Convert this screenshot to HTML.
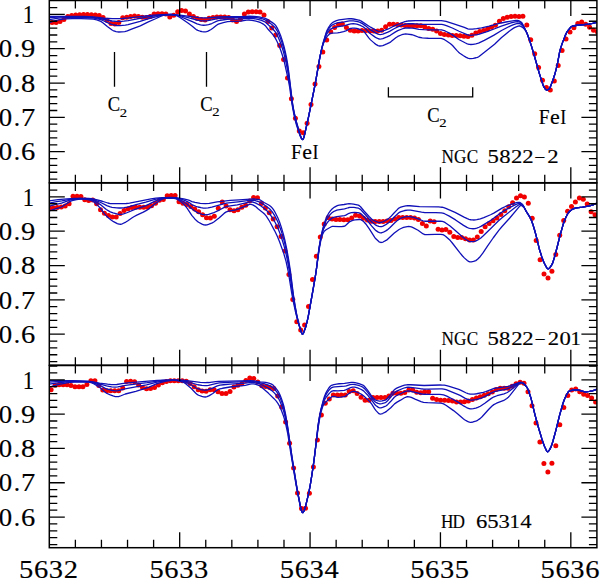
<!DOCTYPE html>
<html><head><meta charset="utf-8"><title>Spectra</title>
<style>html,body{margin:0;padding:0;background:#fff;}body{width:600px;height:578px;overflow:hidden;font-family:"Liberation Serif",serif;}svg{display:block;}</style>
</head><body>
<svg width="600" height="578" viewBox="0 0 600 578"><defs><clipPath id="c0"><rect x="49.3" y="0.5" width="547.6" height="182.2"/></clipPath><clipPath id="c1"><rect x="49.3" y="183.0" width="547.6" height="182.2"/></clipPath><clipPath id="c2"><rect x="49.3" y="365.5" width="547.6" height="182.2"/></clipPath></defs><g clip-path="url(#c0)"><g fill="#f00000"><circle cx="48.2" cy="21.8" r="2.5"/><circle cx="52.1" cy="22.4" r="2.5"/><circle cx="56.1" cy="22.4" r="2.5"/><circle cx="60.0" cy="21.5" r="2.5"/><circle cx="63.9" cy="19.6" r="2.5"/><circle cx="67.8" cy="16.6" r="2.5"/><circle cx="71.7" cy="15.5" r="2.5"/><circle cx="75.7" cy="14.9" r="2.5"/><circle cx="79.6" cy="14.7" r="2.5"/><circle cx="83.5" cy="14.5" r="2.5"/><circle cx="87.4" cy="14.5" r="2.5"/><circle cx="91.4" cy="14.7" r="2.5"/><circle cx="95.3" cy="15.0" r="2.5"/><circle cx="99.2" cy="15.4" r="2.5"/><circle cx="103.1" cy="17.4" r="2.5"/><circle cx="107.0" cy="20.3" r="2.5"/><circle cx="111.0" cy="23.5" r="2.5"/><circle cx="114.9" cy="24.1" r="2.5"/><circle cx="118.8" cy="22.4" r="2.5"/><circle cx="122.7" cy="17.7" r="2.5"/><circle cx="126.7" cy="17.2" r="2.5"/><circle cx="130.6" cy="16.6" r="2.5"/><circle cx="134.5" cy="16.0" r="2.5"/><circle cx="138.4" cy="16.4" r="2.5"/><circle cx="142.4" cy="17.2" r="2.5"/><circle cx="146.3" cy="17.4" r="2.5"/><circle cx="150.2" cy="16.4" r="2.5"/><circle cx="154.1" cy="13.9" r="2.5"/><circle cx="158.0" cy="13.7" r="2.5"/><circle cx="162.0" cy="13.7" r="2.5"/><circle cx="165.9" cy="14.0" r="2.5"/><circle cx="169.8" cy="17.0" r="2.5"/><circle cx="173.7" cy="15.2" r="2.5"/><circle cx="177.7" cy="11.8" r="2.5"/><circle cx="181.6" cy="10.5" r="2.5"/><circle cx="185.5" cy="10.9" r="2.5"/><circle cx="189.4" cy="14.0" r="2.5"/><circle cx="193.4" cy="16.6" r="2.5"/><circle cx="197.3" cy="18.4" r="2.5"/><circle cx="201.2" cy="19.5" r="2.5"/><circle cx="205.1" cy="20.0" r="2.5"/><circle cx="209.0" cy="18.3" r="2.5"/><circle cx="213.0" cy="17.5" r="2.5"/><circle cx="216.9" cy="17.1" r="2.5"/><circle cx="220.8" cy="17.0" r="2.5"/><circle cx="224.7" cy="17.1" r="2.5"/><circle cx="228.7" cy="17.4" r="2.5"/><circle cx="232.6" cy="19.9" r="2.5"/><circle cx="236.5" cy="21.4" r="2.5"/><circle cx="240.4" cy="19.2" r="2.5"/><circle cx="244.4" cy="14.0" r="2.5"/><circle cx="248.3" cy="12.0" r="2.5"/><circle cx="252.2" cy="11.7" r="2.5"/><circle cx="256.1" cy="11.7" r="2.5"/><circle cx="260.0" cy="12.0" r="2.5"/><circle cx="264.0" cy="15.1" r="2.5"/><circle cx="267.9" cy="21.4" r="2.5"/><circle cx="271.8" cy="28.1" r="2.5"/><circle cx="275.7" cy="34.9" r="2.5"/><circle cx="279.7" cy="45.5" r="2.5"/><circle cx="283.6" cy="59.4" r="2.5"/><circle cx="287.5" cy="78.0" r="2.5"/><circle cx="291.4" cy="98.7" r="2.5"/><circle cx="295.4" cy="118.2" r="2.5"/><circle cx="299.3" cy="131.1" r="2.5"/><circle cx="303.2" cy="132.7" r="2.5"/><circle cx="307.1" cy="123.3" r="2.5"/><circle cx="311.0" cy="104.5" r="2.5"/><circle cx="315.0" cy="83.9" r="2.5"/><circle cx="318.9" cy="66.5" r="2.5"/><circle cx="322.8" cy="52.0" r="2.5"/><circle cx="326.7" cy="40.0" r="2.5"/><circle cx="330.7" cy="31.7" r="2.5"/><circle cx="334.6" cy="27.6" r="2.5"/><circle cx="338.5" cy="24.5" r="2.5"/><circle cx="342.4" cy="23.9" r="2.5"/><circle cx="346.4" cy="27.6" r="2.5"/><circle cx="350.3" cy="30.2" r="2.5"/><circle cx="354.2" cy="31.0" r="2.5"/><circle cx="358.1" cy="31.0" r="2.5"/><circle cx="362.0" cy="30.5" r="2.5"/><circle cx="366.0" cy="30.5" r="2.5"/><circle cx="369.9" cy="30.9" r="2.5"/><circle cx="373.8" cy="31.0" r="2.5"/><circle cx="377.7" cy="31.0" r="2.5"/><circle cx="381.7" cy="30.3" r="2.5"/><circle cx="385.6" cy="26.8" r="2.5"/><circle cx="389.5" cy="24.3" r="2.5"/><circle cx="393.4" cy="24.3" r="2.5"/><circle cx="397.4" cy="24.6" r="2.5"/><circle cx="401.3" cy="25.1" r="2.5"/><circle cx="405.2" cy="25.6" r="2.5"/><circle cx="409.1" cy="25.7" r="2.5"/><circle cx="413.0" cy="25.7" r="2.5"/><circle cx="417.0" cy="25.7" r="2.5"/><circle cx="420.9" cy="25.7" r="2.5"/><circle cx="424.8" cy="26.9" r="2.5"/><circle cx="428.7" cy="28.5" r="2.5"/><circle cx="432.7" cy="29.3" r="2.5"/><circle cx="436.6" cy="30.9" r="2.5"/><circle cx="440.5" cy="33.6" r="2.5"/><circle cx="444.4" cy="34.6" r="2.5"/><circle cx="448.4" cy="35.1" r="2.5"/><circle cx="452.3" cy="35.4" r="2.5"/><circle cx="456.2" cy="35.5" r="2.5"/><circle cx="460.1" cy="35.7" r="2.5"/><circle cx="464.0" cy="36.2" r="2.5"/><circle cx="468.0" cy="36.5" r="2.5"/><circle cx="471.9" cy="35.3" r="2.5"/><circle cx="475.8" cy="33.0" r="2.5"/><circle cx="479.7" cy="31.6" r="2.5"/><circle cx="483.7" cy="30.4" r="2.5"/><circle cx="487.6" cy="28.9" r="2.5"/><circle cx="491.5" cy="27.3" r="2.5"/><circle cx="495.4" cy="25.2" r="2.5"/><circle cx="499.4" cy="21.3" r="2.5"/><circle cx="503.3" cy="18.4" r="2.5"/><circle cx="507.2" cy="17.3" r="2.5"/><circle cx="511.1" cy="16.6" r="2.5"/><circle cx="515.0" cy="16.2" r="2.5"/><circle cx="519.0" cy="16.6" r="2.5"/><circle cx="522.9" cy="16.2" r="2.5"/><circle cx="526.8" cy="25.0" r="2.5"/><circle cx="530.7" cy="39.7" r="2.5"/><circle cx="534.7" cy="53.8" r="2.5"/><circle cx="538.6" cy="67.4" r="2.5"/><circle cx="542.5" cy="80.3" r="2.5"/><circle cx="546.4" cy="87.6" r="2.5"/><circle cx="550.3" cy="89.9" r="2.5"/><circle cx="554.3" cy="80.9" r="2.5"/><circle cx="558.2" cy="65.6" r="2.5"/><circle cx="562.1" cy="50.4" r="2.5"/><circle cx="566.0" cy="39.1" r="2.5"/><circle cx="570.0" cy="32.0" r="2.5"/><circle cx="573.9" cy="27.7" r="2.5"/><circle cx="577.8" cy="23.4" r="2.5"/><circle cx="581.7" cy="22.1" r="2.5"/><circle cx="585.7" cy="24.2" r="2.5"/><circle cx="589.6" cy="27.3" r="2.5"/><circle cx="593.5" cy="30.3" r="2.5"/><circle cx="597.4" cy="31.9" r="2.5"/></g><polyline fill="none" stroke="#1010b8" stroke-width="1.3" stroke-linejoin="round" points="49.30,16.30 83.80,16.37 93.30,16.90 104.30,18.26 112.30,18.60 118.55,18.70 122.30,18.52 129.05,17.90 139.55,16.55 150.80,15.39 161.30,14.72 171.30,14.40 180.05,15.22 198.80,17.59 203.05,17.96 207.55,17.91 218.55,17.01 228.80,16.72 240.80,16.69 246.55,16.30 249.05,16.26 254.05,16.49 259.05,16.97 263.30,17.83 265.30,18.40 266.30,18.81 268.30,19.93 272.05,22.37 274.55,24.27 275.80,25.62 277.30,28.10 279.05,31.86 281.05,36.84 282.55,41.38 284.05,46.74 285.30,51.86 286.55,57.92 287.55,63.58 288.55,70.55 292.30,101.64 293.05,106.58 294.05,111.82 296.30,121.39 300.30,135.14 301.55,138.35 302.30,139.35 302.80,139.48 303.05,139.29 303.55,138.33 304.30,135.82 308.30,118.09 315.30,83.47 319.55,58.74 321.55,49.28 323.30,42.22 326.05,32.97 327.05,30.34 328.30,27.95 330.05,25.25 331.80,23.19 333.30,22.04 335.80,20.83 337.30,20.32 339.05,19.94 349.05,18.70 351.30,18.77 353.55,19.01 358.80,20.02 360.05,20.47 361.30,21.13 370.55,27.17 375.80,30.17 378.05,31.17 379.05,31.42 380.05,31.50 382.05,31.24 384.55,30.44 388.30,28.96 393.55,26.21 398.05,24.25 404.80,21.68 406.30,21.26 407.80,21.02 415.55,20.70 441.30,20.70 443.05,20.82 446.05,21.45 453.80,23.83 464.30,27.40 467.80,28.79 469.05,29.11 470.05,29.20 472.55,29.08 476.55,28.64 481.55,27.80 489.30,26.10 501.05,22.99 507.30,21.74 515.80,20.48 517.55,20.41 518.55,20.63 519.55,21.09 521.05,22.03 521.55,22.49 522.30,23.47 523.80,26.25 527.05,33.52 529.30,39.52 531.30,45.59 534.05,54.80 539.30,73.38 542.80,84.19 543.55,86.17 544.30,87.60 545.80,89.54 546.30,89.90 546.80,90.00 547.55,89.83 548.30,89.46 549.05,88.96 549.55,88.38 550.55,86.35 552.80,80.54 554.80,74.30 556.30,68.58 557.80,61.95 559.55,52.49 560.80,47.62 562.30,43.13 565.30,35.37 566.80,32.21 568.05,30.35 570.55,27.35 571.55,26.53 572.55,26.04 575.55,25.51 588.80,24.11 592.55,23.43 596.90,22.40"/><polyline fill="none" stroke="#1010b8" stroke-width="1.3" stroke-linejoin="round" points="49.30,17.62 58.55,17.05 66.30,16.84 81.05,16.79 88.55,17.06 93.05,17.34 96.30,17.78 112.05,21.00 116.30,21.41 119.30,21.48 123.80,21.18 128.05,20.65 148.30,16.93 160.55,15.07 164.05,14.72 171.05,14.44 173.80,14.65 178.55,15.37 187.05,17.39 197.05,20.03 200.30,20.59 203.30,20.90 205.55,20.92 207.80,20.68 211.80,19.96 217.30,18.67 221.80,18.18 229.55,17.71 240.80,17.64 248.05,17.04 252.55,17.23 258.30,17.88 262.05,18.75 265.30,19.93 266.80,20.85 271.80,24.54 274.30,26.68 275.55,28.09 277.05,30.54 278.80,34.24 280.80,39.17 282.30,43.58 283.80,48.78 285.05,53.76 286.30,59.56 287.55,66.28 289.05,76.53 292.30,102.53 293.05,107.30 294.30,113.71 296.30,122.02 300.05,134.64 301.30,137.95 302.05,139.14 302.55,139.48 302.80,139.48 303.30,138.90 304.05,136.77 308.05,119.27 315.05,84.78 319.55,58.84 321.30,50.46 323.05,43.46 325.55,35.42 326.55,32.76 327.55,30.68 329.30,27.99 330.80,26.18 332.55,24.77 334.55,23.84 336.55,23.15 338.30,22.73 344.30,21.89 348.05,21.08 349.55,20.87 351.55,20.78 353.30,20.87 357.80,21.67 360.05,22.37 362.80,23.90 365.55,25.85 370.30,29.66 375.80,33.14 378.05,34.19 379.05,34.46 380.05,34.54 381.30,34.44 382.80,34.09 387.30,32.39 389.55,31.33 394.05,28.76 397.80,26.89 403.55,24.66 406.30,23.94 408.05,23.76 412.30,23.71 421.80,24.28 441.80,24.46 444.05,24.86 447.05,25.85 452.30,27.98 459.05,31.27 467.05,34.66 468.80,35.22 470.30,35.37 474.80,34.97 477.30,34.60 479.30,34.13 487.80,31.29 494.05,28.99 501.30,26.05 508.05,23.83 511.05,22.95 515.30,21.93 517.55,21.65 518.80,21.83 519.80,22.22 521.05,22.97 521.80,23.66 522.55,24.64 524.30,27.68 527.05,33.45 529.55,40.23 531.30,45.59 534.05,54.80 539.30,73.38 542.80,84.19 543.55,86.17 544.30,87.60 545.80,89.54 546.30,89.90 546.80,90.00 547.55,89.83 548.30,89.46 549.05,88.96 549.55,88.38 550.55,86.35 552.80,80.54 554.80,74.30 556.30,68.58 557.80,61.95 559.55,52.49 560.80,47.62 562.30,43.13 565.30,35.37 566.80,32.21 568.05,30.35 570.55,27.35 571.55,26.53 572.55,26.04 575.55,25.51 588.80,24.11 592.55,23.43 596.90,22.40"/><polyline fill="none" stroke="#1010b8" stroke-width="1.3" stroke-linejoin="round" points="49.30,19.57 58.55,18.16 66.05,17.65 81.55,17.51 92.55,17.98 96.30,18.56 100.80,19.70 102.80,20.49 107.55,22.71 111.05,24.18 112.55,24.69 116.80,25.50 120.05,25.58 125.30,25.12 128.05,24.57 140.05,21.43 148.05,18.93 161.55,15.31 163.30,14.99 165.55,14.78 171.05,14.50 174.30,14.85 176.55,15.28 178.30,15.76 188.05,19.79 192.30,21.67 197.05,23.96 200.55,24.82 203.55,25.24 205.80,25.21 208.55,24.58 211.80,23.52 216.30,21.43 218.30,20.73 224.05,19.74 228.80,19.22 231.55,19.10 240.55,19.05 247.05,18.25 250.05,18.25 253.55,18.60 257.80,19.27 260.80,20.10 263.30,21.09 265.05,22.02 266.05,22.79 272.55,28.71 275.05,31.50 276.55,33.90 278.30,37.47 280.30,42.27 281.80,46.47 283.30,51.39 284.80,57.12 286.30,63.89 287.80,71.61 289.80,84.60 292.30,103.85 293.30,109.72 294.55,115.86 296.30,122.94 299.80,134.36 301.30,138.11 302.05,139.18 302.55,139.48 302.80,139.48 303.05,139.29 303.30,138.90 304.05,136.77 308.30,118.09 315.30,83.45 319.55,59.00 321.05,51.69 322.30,46.55 323.30,43.11 324.55,39.41 325.80,36.18 327.05,33.56 328.55,31.36 330.05,29.62 331.05,28.83 332.55,28.07 337.05,26.89 344.55,25.57 348.80,24.26 350.80,23.82 353.30,23.67 356.80,24.20 359.80,25.08 363.05,26.74 365.05,28.34 369.05,32.45 370.80,33.96 374.80,36.85 376.55,37.96 378.30,38.75 379.80,39.04 381.30,38.93 382.80,38.59 387.05,36.93 390.30,35.33 395.55,31.91 397.80,30.64 402.55,28.73 405.30,28.01 407.80,27.83 412.30,28.04 414.05,28.29 419.05,29.34 423.80,29.67 428.55,29.84 440.05,29.85 441.55,29.95 443.30,30.34 445.05,30.97 450.55,33.70 452.80,35.11 458.80,39.48 465.55,43.03 467.30,43.83 468.55,44.25 469.55,44.44 470.80,44.48 473.05,44.30 475.80,43.85 477.55,43.48 479.05,42.95 484.30,40.33 493.55,35.39 501.55,30.52 510.05,26.10 513.55,24.61 515.80,23.86 517.80,23.44 519.55,23.59 520.30,23.90 521.30,24.52 523.05,26.39 525.30,29.86 526.30,31.67 527.05,33.34 529.55,40.23 531.30,45.59 534.05,54.80 539.30,73.38 542.80,84.19 543.55,86.17 544.30,87.60 545.80,89.54 546.30,89.90 546.80,90.00 547.55,89.83 548.30,89.46 549.05,88.96 549.55,88.38 550.55,86.35 552.80,80.54 554.80,74.30 556.30,68.58 557.80,61.95 559.55,52.49 560.80,47.62 562.30,43.13 565.30,35.37 566.80,32.21 568.05,30.35 570.55,27.35 571.55,26.53 572.55,26.04 575.55,25.51 588.80,24.11 592.55,23.43 596.90,22.40"/><polyline fill="none" stroke="#1010b8" stroke-width="1.3" stroke-linejoin="round" points="49.30,22.59 53.55,21.21 58.55,19.87 61.80,19.35 65.55,18.94 72.30,18.69 81.05,18.60 87.80,18.78 93.30,19.13 96.80,19.91 100.80,21.36 102.80,22.67 107.30,26.47 112.05,30.03 113.05,30.52 116.05,31.58 117.55,31.91 118.80,32.00 121.55,31.88 124.80,31.53 127.30,30.92 131.55,29.17 140.30,25.87 147.80,22.09 155.55,18.76 161.55,15.86 163.80,15.23 168.80,14.67 171.30,14.60 172.80,14.76 176.05,15.51 177.80,16.19 180.30,17.67 188.30,23.29 192.30,26.23 195.55,29.00 196.80,29.91 197.80,30.42 200.30,31.25 202.05,31.70 203.80,31.96 205.30,31.96 206.55,31.67 208.05,31.05 211.05,29.47 212.80,28.31 216.55,25.20 218.30,24.15 223.30,22.61 227.55,21.70 231.30,21.32 240.80,21.21 246.55,20.14 248.80,20.01 252.05,20.32 256.80,21.27 258.55,21.79 260.80,22.71 263.30,24.09 265.30,25.69 268.30,29.56 272.05,33.64 273.80,35.82 275.30,38.17 277.05,41.51 279.05,45.96 280.80,50.44 282.55,55.73 284.30,61.92 288.30,79.96 289.80,88.00 291.30,99.57 292.05,104.46 293.80,113.87 295.30,120.62 296.55,125.21 299.80,135.16 300.55,136.96 301.30,138.36 302.05,139.24 302.55,139.49 302.80,139.48 303.05,139.29 303.30,138.90 304.05,136.77 308.30,118.09 314.55,87.33 316.30,78.04 319.30,60.52 320.80,53.00 321.80,48.72 322.80,45.39 323.80,42.61 325.80,38.46 326.80,36.86 328.05,35.41 329.55,33.99 330.55,33.41 331.80,33.22 337.55,32.82 340.30,32.35 343.55,31.61 345.80,30.87 350.30,28.69 352.30,28.09 354.30,28.04 356.80,28.46 360.30,29.64 362.80,30.75 363.55,31.24 365.05,32.78 368.80,37.91 370.55,39.87 374.30,43.13 376.30,44.65 378.05,45.59 379.80,46.00 381.30,45.90 382.80,45.56 384.55,44.94 386.80,43.92 389.55,42.58 390.80,41.82 395.80,37.80 397.80,36.44 401.80,34.73 404.30,34.07 405.55,34.00 407.55,34.10 412.30,34.75 414.05,35.28 418.80,37.24 422.30,37.79 428.30,38.27 441.05,38.39 442.80,38.88 444.55,39.71 446.55,40.94 450.55,43.70 452.55,45.54 456.80,50.35 458.55,52.14 459.80,53.16 463.55,55.75 465.80,57.15 467.80,58.08 469.55,58.53 471.05,58.59 473.30,58.35 476.05,57.75 477.55,57.32 479.05,56.51 494.55,44.18 501.30,37.79 510.55,30.17 513.55,28.16 515.55,27.08 518.30,26.07 519.30,25.91 520.05,25.98 521.55,26.81 523.30,28.10 524.30,29.01 526.05,31.17 527.05,33.18 529.80,40.95 531.30,45.59 534.05,54.80 539.30,73.38 542.80,84.19 543.55,86.17 544.30,87.60 545.80,89.54 546.30,89.90 546.80,90.00 547.55,89.83 548.30,89.46 549.05,88.96 549.55,88.38 550.55,86.35 552.80,80.54 554.80,74.30 556.30,68.58 557.80,61.95 559.55,52.49 560.80,47.62 562.30,43.13 565.30,35.37 566.80,32.21 568.05,30.35 570.55,27.35 571.55,26.53 572.55,26.04 575.55,25.51 588.80,24.11 592.55,23.43 596.90,22.40"/></g><g clip-path="url(#c1)"><g fill="#f00000"><circle cx="49.5" cy="208.0" r="2.5"/><circle cx="53.4" cy="208.0" r="2.5"/><circle cx="57.3" cy="207.4" r="2.5"/><circle cx="61.3" cy="206.9" r="2.5"/><circle cx="65.2" cy="206.0" r="2.5"/><circle cx="69.1" cy="203.7" r="2.5"/><circle cx="73.0" cy="196.3" r="2.5"/><circle cx="77.0" cy="196.3" r="2.5"/><circle cx="80.9" cy="196.6" r="2.5"/><circle cx="84.8" cy="199.8" r="2.5"/><circle cx="88.7" cy="200.5" r="2.5"/><circle cx="92.7" cy="200.0" r="2.5"/><circle cx="96.6" cy="203.7" r="2.5"/><circle cx="100.5" cy="209.7" r="2.5"/><circle cx="104.4" cy="213.3" r="2.5"/><circle cx="108.4" cy="215.6" r="2.5"/><circle cx="112.3" cy="217.1" r="2.5"/><circle cx="116.2" cy="217.1" r="2.5"/><circle cx="120.1" cy="213.5" r="2.5"/><circle cx="124.1" cy="210.5" r="2.5"/><circle cx="128.0" cy="208.8" r="2.5"/><circle cx="131.9" cy="207.4" r="2.5"/><circle cx="135.8" cy="207.3" r="2.5"/><circle cx="139.8" cy="207.3" r="2.5"/><circle cx="143.7" cy="207.3" r="2.5"/><circle cx="147.6" cy="207.3" r="2.5"/><circle cx="151.5" cy="205.7" r="2.5"/><circle cx="155.5" cy="203.2" r="2.5"/><circle cx="159.4" cy="200.2" r="2.5"/><circle cx="163.3" cy="199.5" r="2.5"/><circle cx="167.2" cy="195.8" r="2.5"/><circle cx="171.2" cy="195.5" r="2.5"/><circle cx="175.1" cy="195.5" r="2.5"/><circle cx="179.0" cy="201.7" r="2.5"/><circle cx="182.9" cy="203.3" r="2.5"/><circle cx="186.9" cy="204.6" r="2.5"/><circle cx="190.8" cy="206.6" r="2.5"/><circle cx="194.7" cy="209.1" r="2.5"/><circle cx="198.6" cy="211.7" r="2.5"/><circle cx="202.6" cy="214.7" r="2.5"/><circle cx="206.5" cy="217.8" r="2.5"/><circle cx="210.4" cy="218.1" r="2.5"/><circle cx="214.3" cy="216.2" r="2.5"/><circle cx="218.3" cy="208.2" r="2.5"/><circle cx="222.2" cy="202.1" r="2.5"/><circle cx="226.1" cy="206.0" r="2.5"/><circle cx="230.0" cy="209.7" r="2.5"/><circle cx="234.0" cy="210.7" r="2.5"/><circle cx="237.9" cy="209.7" r="2.5"/><circle cx="241.8" cy="207.3" r="2.5"/><circle cx="245.7" cy="205.3" r="2.5"/><circle cx="249.7" cy="201.1" r="2.5"/><circle cx="253.6" cy="197.6" r="2.5"/><circle cx="257.5" cy="197.7" r="2.5"/><circle cx="261.4" cy="203.6" r="2.5"/><circle cx="265.4" cy="208.0" r="2.5"/><circle cx="269.3" cy="212.8" r="2.5"/><circle cx="273.2" cy="219.1" r="2.5"/><circle cx="277.1" cy="226.7" r="2.5"/><circle cx="281.1" cy="236.4" r="2.5"/><circle cx="285.0" cy="250.9" r="2.5"/><circle cx="288.9" cy="274.5" r="2.5"/><circle cx="292.8" cy="299.4" r="2.5"/><circle cx="296.8" cy="321.7" r="2.5"/><circle cx="300.7" cy="330.0" r="2.5"/><circle cx="304.6" cy="325.1" r="2.5"/><circle cx="308.5" cy="306.5" r="2.5"/><circle cx="312.5" cy="279.4" r="2.5"/><circle cx="316.4" cy="256.2" r="2.5"/><circle cx="320.3" cy="237.1" r="2.5"/><circle cx="324.2" cy="223.9" r="2.5"/><circle cx="328.2" cy="217.7" r="2.5"/><circle cx="332.1" cy="218.9" r="2.5"/><circle cx="336.0" cy="219.4" r="2.5"/><circle cx="339.9" cy="219.6" r="2.5"/><circle cx="343.9" cy="219.8" r="2.5"/><circle cx="347.8" cy="219.8" r="2.5"/><circle cx="351.7" cy="218.0" r="2.5"/><circle cx="355.6" cy="215.3" r="2.5"/><circle cx="359.6" cy="215.9" r="2.5"/><circle cx="363.5" cy="218.3" r="2.5"/><circle cx="367.4" cy="219.9" r="2.5"/><circle cx="371.3" cy="221.2" r="2.5"/><circle cx="375.2" cy="221.4" r="2.5"/><circle cx="379.2" cy="221.4" r="2.5"/><circle cx="383.1" cy="221.4" r="2.5"/><circle cx="387.0" cy="221.0" r="2.5"/><circle cx="391.0" cy="220.4" r="2.5"/><circle cx="394.9" cy="218.9" r="2.5"/><circle cx="398.8" cy="217.6" r="2.5"/><circle cx="402.7" cy="217.5" r="2.5"/><circle cx="406.7" cy="217.5" r="2.5"/><circle cx="410.6" cy="217.5" r="2.5"/><circle cx="414.5" cy="217.9" r="2.5"/><circle cx="418.4" cy="219.5" r="2.5"/><circle cx="422.4" cy="223.4" r="2.5"/><circle cx="426.3" cy="226.1" r="2.5"/><circle cx="430.2" cy="220.9" r="2.5"/><circle cx="434.1" cy="221.7" r="2.5"/><circle cx="438.1" cy="229.2" r="2.5"/><circle cx="442.0" cy="230.1" r="2.5"/><circle cx="445.9" cy="229.4" r="2.5"/><circle cx="449.8" cy="232.3" r="2.5"/><circle cx="453.8" cy="236.5" r="2.5"/><circle cx="457.7" cy="237.5" r="2.5"/><circle cx="461.6" cy="237.5" r="2.5"/><circle cx="465.5" cy="238.7" r="2.5"/><circle cx="469.5" cy="239.9" r="2.5"/><circle cx="473.4" cy="240.0" r="2.5"/><circle cx="477.3" cy="236.9" r="2.5"/><circle cx="481.2" cy="231.5" r="2.5"/><circle cx="485.1" cy="226.7" r="2.5"/><circle cx="489.1" cy="223.6" r="2.5"/><circle cx="493.0" cy="220.8" r="2.5"/><circle cx="496.9" cy="217.9" r="2.5"/><circle cx="500.9" cy="214.4" r="2.5"/><circle cx="504.8" cy="210.7" r="2.5"/><circle cx="508.7" cy="206.8" r="2.5"/><circle cx="512.6" cy="202.8" r="2.5"/><circle cx="516.5" cy="198.0" r="2.5"/><circle cx="520.5" cy="195.7" r="2.5"/><circle cx="524.4" cy="197.1" r="2.5"/><circle cx="528.3" cy="203.2" r="2.5"/><circle cx="532.2" cy="218.2" r="2.5"/><circle cx="536.2" cy="240.4" r="2.5"/><circle cx="540.1" cy="259.7" r="2.5"/><circle cx="544.0" cy="274.1" r="2.5"/><circle cx="548.0" cy="278.1" r="2.5"/><circle cx="551.9" cy="271.2" r="2.5"/><circle cx="555.8" cy="254.6" r="2.5"/><circle cx="559.7" cy="235.2" r="2.5"/><circle cx="563.7" cy="220.5" r="2.5"/><circle cx="567.6" cy="211.3" r="2.5"/><circle cx="571.5" cy="206.6" r="2.5"/><circle cx="575.4" cy="202.0" r="2.5"/><circle cx="579.4" cy="198.0" r="2.5"/><circle cx="583.3" cy="199.2" r="2.5"/><circle cx="587.2" cy="204.0" r="2.5"/><circle cx="591.1" cy="211.8" r="2.5"/><circle cx="595.0" cy="214.8" r="2.5"/><circle cx="599.0" cy="215.6" r="2.5"/></g><polyline fill="none" stroke="#1010b8" stroke-width="1.3" stroke-linejoin="round" points="49.30,200.95 58.05,199.63 66.80,198.88 74.30,198.51 88.55,198.31 91.30,198.58 94.30,199.19 102.30,201.25 107.80,203.00 110.30,203.57 111.80,203.70 123.55,203.69 126.30,203.49 129.55,203.03 151.05,198.89 155.80,198.11 158.80,197.78 162.55,197.56 171.05,197.30 175.55,197.66 183.80,198.92 188.80,200.14 189.80,200.52 191.80,201.64 195.05,202.45 200.30,203.38 205.30,203.70 209.30,203.38 217.05,201.94 221.80,201.33 230.30,200.45 239.05,199.78 250.05,199.10 253.55,199.00 257.80,199.40 259.30,199.67 260.30,200.07 264.05,202.53 267.80,204.49 269.55,205.56 271.30,206.97 272.55,208.40 273.80,210.19 275.05,212.29 277.80,217.70 279.55,221.93 281.30,227.11 283.55,234.85 284.80,239.95 286.55,248.24 288.30,257.53 290.55,271.80 293.30,294.08 295.05,305.42 296.55,313.79 298.05,320.76 299.55,326.56 301.55,332.88 302.05,333.87 302.30,334.13 302.55,334.20 303.05,333.80 303.55,332.89 305.55,327.41 307.05,321.89 308.30,316.17 312.55,292.57 315.55,275.06 316.55,268.06 318.30,253.34 319.30,246.01 321.30,235.11 323.05,227.60 324.55,222.60 325.80,219.05 327.05,216.13 328.55,213.49 330.55,210.63 332.30,208.74 334.55,207.07 336.80,205.83 338.05,205.36 339.30,205.08 344.05,204.49 347.55,203.85 349.05,203.70 351.30,203.78 353.55,204.04 358.30,205.10 359.30,205.67 360.55,206.79 364.05,210.97 369.05,216.54 371.55,219.02 372.80,219.89 376.55,221.73 378.30,222.29 380.05,222.50 381.80,222.24 383.55,221.58 385.55,220.51 388.55,218.63 390.55,216.82 393.80,213.22 397.55,209.34 399.30,207.86 400.05,207.48 402.55,206.62 405.80,205.87 407.55,205.71 409.80,205.75 419.55,206.68 438.55,206.96 440.55,207.03 442.05,207.24 443.80,207.70 445.80,208.42 455.05,212.43 464.05,217.19 467.30,218.69 469.05,219.30 470.80,219.75 472.30,219.96 473.80,219.99 476.80,219.66 480.30,218.78 483.80,217.53 490.55,214.77 493.80,213.11 502.05,208.12 505.55,206.47 509.05,205.01 516.30,202.67 518.30,202.33 519.55,202.38 520.30,202.70 521.05,203.21 522.55,204.55 523.05,205.17 523.80,206.47 526.05,211.09 529.55,216.62 531.30,220.06 532.80,224.18 534.55,230.04 536.05,235.45 539.30,248.97 541.80,256.89 543.30,260.95 544.80,264.23 546.80,267.83 547.55,268.68 548.05,268.90 548.55,268.81 549.05,268.52 550.05,267.47 552.05,264.34 552.80,262.62 554.30,257.76 557.05,247.52 560.05,235.42 563.30,224.05 564.55,220.45 565.80,217.56 567.30,214.51 568.55,212.54 569.55,211.46 571.30,209.99 572.80,209.03 574.05,208.50 576.55,207.95 582.55,207.17 589.55,205.91 593.05,204.80 596.90,203.05"/><polyline fill="none" stroke="#1010b8" stroke-width="1.3" stroke-linejoin="round" points="49.30,203.04 55.30,201.86 61.80,200.83 68.30,199.57 71.55,199.08 80.30,198.51 88.55,198.63 91.80,199.08 95.05,200.11 101.30,202.76 106.80,205.58 110.30,206.90 112.05,207.28 116.80,207.83 119.05,208.00 121.05,208.00 124.05,207.71 127.55,207.05 136.05,204.63 145.80,202.22 155.05,199.40 158.80,198.53 164.30,197.67 171.80,197.53 173.80,197.64 175.80,197.93 182.05,199.44 184.55,200.34 187.30,201.55 189.55,202.84 191.80,204.54 195.80,206.26 198.05,207.00 201.05,207.70 203.30,208.06 205.30,208.17 208.05,207.95 211.80,207.17 223.55,203.79 226.30,203.15 238.05,201.78 249.30,200.28 251.80,200.17 254.55,200.46 256.80,201.02 260.05,202.14 266.30,206.33 268.55,208.00 270.55,209.82 272.30,211.91 274.80,215.89 277.55,221.31 279.30,225.43 281.30,231.17 283.55,238.64 284.80,243.49 286.30,250.23 288.05,259.18 290.30,273.05 293.30,295.64 295.05,306.35 296.55,314.29 298.05,320.98 299.55,326.58 301.55,332.87 302.05,333.87 302.30,334.13 302.55,334.20 303.05,333.80 303.55,332.89 305.55,327.41 307.05,321.89 308.30,316.17 312.55,292.57 315.55,275.04 316.55,268.12 318.30,253.73 319.30,246.55 321.05,237.00 322.55,230.59 323.80,226.45 325.05,223.08 326.30,220.27 327.55,218.05 329.55,215.27 331.55,213.08 333.05,211.93 335.30,210.77 336.80,210.19 338.30,209.79 344.55,208.98 348.30,207.75 349.80,207.46 352.05,207.36 354.05,207.45 356.55,207.79 358.55,208.22 360.05,209.07 361.30,210.20 366.05,215.46 370.30,220.50 372.55,222.71 375.05,224.58 376.80,225.60 378.80,226.42 380.30,226.67 381.55,226.54 383.05,226.05 384.80,225.19 387.05,223.83 388.55,222.78 389.80,221.68 394.30,216.97 398.80,212.72 399.80,212.10 401.05,211.60 404.55,210.51 407.55,210.10 410.55,210.18 421.55,212.21 424.80,212.63 435.80,212.66 441.30,212.86 442.80,213.13 444.55,213.73 449.30,216.18 455.55,219.92 463.55,225.37 467.05,227.34 468.55,228.02 470.05,228.48 471.55,228.70 473.05,228.74 475.05,228.54 476.80,228.11 479.05,227.25 481.30,226.17 491.30,219.93 500.30,213.18 504.30,210.61 509.55,207.64 515.55,204.58 518.80,203.33 519.55,203.21 520.05,203.26 520.80,203.55 521.80,204.24 522.80,205.15 523.30,205.82 526.05,211.09 529.55,216.62 531.30,220.06 532.80,224.18 534.55,230.04 536.05,235.45 539.30,248.97 541.80,256.89 543.30,260.95 544.80,264.23 546.80,267.83 547.55,268.68 548.05,268.90 548.55,268.81 549.05,268.52 550.05,267.47 552.05,264.34 552.80,262.62 554.30,257.76 557.05,247.52 560.05,235.42 563.30,224.05 564.55,220.45 565.80,217.56 567.30,214.51 568.55,212.54 569.55,211.46 571.30,209.99 572.80,209.03 574.05,208.50 576.55,207.95 582.55,207.17 589.55,205.91 593.05,204.80 596.90,203.05"/><polyline fill="none" stroke="#1010b8" stroke-width="1.3" stroke-linejoin="round" points="49.30,206.12 55.05,204.68 61.55,203.23 69.05,200.48 71.80,199.72 76.55,199.02 80.30,198.72 84.05,198.74 88.30,199.07 91.80,199.71 93.55,200.42 95.30,201.35 100.05,204.37 106.30,209.49 110.30,211.82 113.05,212.89 116.80,213.93 118.80,214.33 120.55,214.39 122.80,214.02 126.30,213.00 134.30,209.56 145.30,205.79 148.55,204.41 155.55,200.91 161.80,198.54 163.55,198.08 165.05,197.89 173.55,197.89 175.55,198.21 177.80,198.90 180.80,200.03 183.05,201.24 187.30,204.27 191.80,208.82 194.80,211.00 197.05,212.36 198.55,213.05 202.05,214.27 203.80,214.66 205.55,214.77 208.55,214.35 213.05,212.99 219.30,210.05 224.30,207.34 226.80,206.44 237.30,204.80 250.05,201.83 251.30,201.81 252.55,202.00 254.55,202.57 255.80,203.10 260.30,205.53 264.30,208.45 266.80,210.67 269.80,214.04 272.55,217.97 275.30,222.79 278.05,228.52 280.30,234.27 282.55,241.02 284.30,246.84 285.80,252.79 287.30,259.79 289.30,270.95 293.05,296.45 294.80,306.41 296.55,315.04 298.05,321.30 299.55,326.62 301.55,332.85 302.05,333.87 302.30,334.13 302.55,334.20 303.05,333.80 303.55,332.89 305.55,327.41 307.05,321.89 308.30,316.17 315.05,278.10 316.30,270.03 319.05,248.90 320.55,240.44 321.80,234.76 322.80,231.35 323.80,228.61 324.80,226.45 326.05,224.30 327.55,222.30 329.80,219.90 331.30,218.59 332.80,217.67 334.55,217.10 336.80,216.63 344.55,215.71 345.80,215.17 349.05,213.28 351.30,212.68 354.55,212.35 357.80,212.55 359.05,212.78 360.30,213.29 361.30,214.00 364.80,217.50 366.30,219.24 371.55,225.93 375.05,229.80 376.05,230.63 378.30,232.12 379.55,232.67 380.55,232.86 381.80,232.74 383.30,232.22 385.80,230.89 387.30,229.90 390.05,227.53 394.55,223.06 397.55,220.37 399.05,219.21 400.05,218.66 402.30,217.71 405.05,216.91 408.55,216.53 410.05,216.58 411.30,216.77 413.30,217.32 418.05,218.92 422.80,220.76 424.80,221.24 436.05,221.15 440.30,221.26 442.30,221.46 443.80,221.92 445.30,222.68 450.05,225.92 455.30,230.40 462.05,236.58 464.80,238.76 467.55,240.57 469.05,241.33 470.30,241.67 472.30,241.71 474.55,241.38 476.05,240.94 477.80,240.03 480.55,238.17 483.30,235.76 491.80,227.55 498.30,221.06 502.05,217.69 516.05,206.75 519.30,204.54 520.05,204.29 520.80,204.32 521.55,204.65 522.55,205.39 524.05,207.27 526.30,211.51 529.80,217.05 531.30,220.06 532.80,224.18 534.55,230.04 536.05,235.45 539.30,248.97 541.80,256.89 543.30,260.95 544.80,264.23 546.80,267.83 547.55,268.68 548.05,268.90 548.55,268.81 549.05,268.52 550.05,267.47 552.05,264.34 552.80,262.62 554.30,257.76 557.05,247.52 560.05,235.42 563.30,224.05 564.55,220.45 565.80,217.56 567.30,214.51 568.55,212.54 569.55,211.46 571.30,209.99 572.80,209.03 574.05,208.50 576.55,207.95 582.55,207.17 589.55,205.91 593.05,204.80 596.90,203.05"/><polyline fill="none" stroke="#1010b8" stroke-width="1.3" stroke-linejoin="round" points="49.30,210.90 55.30,208.90 59.55,207.66 61.30,207.00 62.55,206.33 65.55,204.28 69.30,201.94 70.80,201.15 72.05,200.69 76.55,199.54 80.05,199.04 83.55,199.09 87.80,199.68 90.80,200.32 91.80,200.68 93.55,201.71 95.30,203.11 99.80,207.46 104.55,213.84 106.05,215.64 108.55,217.98 111.05,220.01 113.55,221.68 117.30,223.60 119.05,224.20 120.55,224.26 122.30,223.76 125.80,222.05 127.55,220.99 131.80,217.95 133.80,216.72 136.80,215.18 143.30,212.15 146.55,210.39 149.05,208.67 155.80,203.28 160.80,200.01 162.55,199.02 163.80,198.53 165.05,198.31 173.80,198.32 175.55,198.72 177.80,199.75 180.55,201.34 182.55,203.01 184.55,205.14 187.05,208.14 191.80,215.45 194.80,218.94 197.05,221.12 198.55,222.21 202.05,224.15 203.80,224.80 205.55,225.00 207.05,224.80 209.05,224.21 212.30,222.87 213.80,222.03 219.30,217.82 224.30,213.15 226.30,211.86 228.80,211.10 234.55,210.04 237.30,209.32 245.55,206.20 248.30,204.92 249.55,204.46 251.05,204.32 252.80,204.89 255.30,206.34 258.30,209.05 263.05,212.66 264.80,214.29 266.30,216.14 269.55,221.26 274.55,230.58 277.30,236.27 279.55,241.74 283.80,253.65 286.05,261.37 288.30,271.97 291.55,292.27 293.55,302.76 295.30,310.98 297.05,318.14 299.05,325.13 301.55,332.83 302.05,333.86 302.30,334.13 302.55,334.20 303.05,333.80 303.55,332.89 305.55,327.41 306.80,322.91 308.05,317.44 312.55,292.57 315.30,276.51 316.30,270.09 319.30,248.56 320.55,241.84 321.55,237.45 322.05,235.86 323.05,233.38 323.80,231.94 324.55,230.95 326.05,229.74 331.30,226.75 332.30,226.41 333.05,226.30 338.80,226.70 341.55,226.57 344.30,226.24 345.05,225.88 345.80,225.32 349.30,221.93 352.05,220.59 353.55,220.08 355.05,219.79 359.05,219.51 360.05,219.50 360.80,219.65 362.05,220.37 364.05,222.04 365.80,223.97 369.30,228.87 374.55,237.14 375.55,238.51 378.80,241.59 379.80,242.20 380.80,242.49 381.80,242.42 383.05,242.04 386.55,240.15 394.30,233.07 397.05,230.91 399.05,229.53 401.55,228.23 403.55,227.38 404.80,227.04 407.30,226.64 408.80,226.51 410.05,226.55 411.30,226.84 412.55,227.33 418.05,230.29 422.80,233.68 423.80,234.23 424.80,234.59 426.80,234.68 435.30,234.30 440.55,234.43 442.80,234.64 444.05,235.18 445.55,236.22 450.30,240.59 452.30,243.00 459.55,252.45 462.55,256.04 464.30,257.88 467.30,260.48 468.55,261.39 469.80,261.93 471.30,261.95 473.55,261.47 475.80,260.62 477.55,259.25 480.30,256.44 482.80,253.15 487.80,245.55 493.30,237.75 498.80,230.35 502.05,226.52 509.55,218.23 519.30,206.59 520.30,205.71 520.80,205.52 521.30,205.53 522.55,206.16 524.30,207.86 526.30,211.51 529.80,217.04 531.30,220.06 532.55,223.42 534.30,229.17 536.05,235.45 539.30,248.97 542.05,257.61 544.05,262.71 546.30,267.01 547.30,268.46 547.80,268.83 548.30,268.88 548.80,268.69 549.30,268.31 550.30,267.14 552.05,264.34 552.80,262.62 554.30,257.76 557.05,247.52 560.05,235.42 563.30,224.05 564.55,220.45 565.80,217.56 567.30,214.51 568.55,212.54 569.55,211.46 571.30,209.99 572.80,209.03 574.05,208.50 576.55,207.95 582.55,207.17 589.55,205.91 593.05,204.80 596.90,203.05"/></g><g clip-path="url(#c2)"><g fill="#f00000"><circle cx="47.2" cy="389.8" r="2.5"/><circle cx="51.1" cy="389.7" r="2.5"/><circle cx="55.1" cy="385.2" r="2.5"/><circle cx="59.1" cy="384.8" r="2.5"/><circle cx="63.1" cy="384.7" r="2.5"/><circle cx="67.0" cy="384.7" r="2.5"/><circle cx="71.0" cy="385.5" r="2.5"/><circle cx="75.0" cy="386.7" r="2.5"/><circle cx="79.0" cy="386.7" r="2.5"/><circle cx="82.9" cy="386.7" r="2.5"/><circle cx="86.9" cy="384.5" r="2.5"/><circle cx="90.9" cy="380.7" r="2.5"/><circle cx="94.9" cy="380.7" r="2.5"/><circle cx="98.8" cy="385.5" r="2.5"/><circle cx="102.8" cy="389.9" r="2.5"/><circle cx="106.8" cy="390.7" r="2.5"/><circle cx="110.7" cy="390.7" r="2.5"/><circle cx="114.7" cy="390.7" r="2.5"/><circle cx="118.7" cy="390.7" r="2.5"/><circle cx="122.7" cy="388.0" r="2.5"/><circle cx="126.6" cy="381.5" r="2.5"/><circle cx="130.6" cy="381.3" r="2.5"/><circle cx="134.6" cy="381.7" r="2.5"/><circle cx="138.6" cy="385.0" r="2.5"/><circle cx="142.5" cy="387.4" r="2.5"/><circle cx="146.5" cy="388.7" r="2.5"/><circle cx="150.5" cy="388.4" r="2.5"/><circle cx="154.5" cy="387.6" r="2.5"/><circle cx="158.4" cy="384.9" r="2.5"/><circle cx="162.4" cy="382.8" r="2.5"/><circle cx="166.4" cy="381.4" r="2.5"/><circle cx="170.4" cy="380.8" r="2.5"/><circle cx="174.3" cy="380.7" r="2.5"/><circle cx="178.3" cy="380.7" r="2.5"/><circle cx="182.3" cy="380.8" r="2.5"/><circle cx="186.3" cy="381.2" r="2.5"/><circle cx="190.2" cy="383.5" r="2.5"/><circle cx="194.2" cy="386.8" r="2.5"/><circle cx="198.2" cy="389.8" r="2.5"/><circle cx="202.1" cy="390.9" r="2.5"/><circle cx="206.1" cy="391.2" r="2.5"/><circle cx="210.1" cy="389.7" r="2.5"/><circle cx="214.1" cy="389.7" r="2.5"/><circle cx="218.0" cy="391.7" r="2.5"/><circle cx="222.0" cy="393.6" r="2.5"/><circle cx="226.0" cy="393.6" r="2.5"/><circle cx="230.0" cy="391.5" r="2.5"/><circle cx="233.9" cy="387.1" r="2.5"/><circle cx="237.9" cy="385.3" r="2.5"/><circle cx="241.9" cy="383.7" r="2.5"/><circle cx="245.9" cy="380.4" r="2.5"/><circle cx="249.8" cy="378.0" r="2.5"/><circle cx="253.8" cy="378.5" r="2.5"/><circle cx="257.8" cy="381.9" r="2.5"/><circle cx="261.8" cy="385.7" r="2.5"/><circle cx="265.7" cy="386.5" r="2.5"/><circle cx="269.7" cy="387.5" r="2.5"/><circle cx="273.7" cy="388.5" r="2.5"/><circle cx="277.7" cy="396.0" r="2.5"/><circle cx="281.6" cy="406.9" r="2.5"/><circle cx="285.6" cy="422.0" r="2.5"/><circle cx="289.6" cy="443.2" r="2.5"/><circle cx="293.6" cy="467.9" r="2.5"/><circle cx="297.5" cy="493.0" r="2.5"/><circle cx="301.5" cy="508.6" r="2.5"/><circle cx="305.5" cy="508.2" r="2.5"/><circle cx="309.4" cy="493.2" r="2.5"/><circle cx="313.4" cy="467.0" r="2.5"/><circle cx="317.4" cy="440.0" r="2.5"/><circle cx="321.4" cy="415.0" r="2.5"/><circle cx="325.3" cy="403.2" r="2.5"/><circle cx="329.3" cy="399.1" r="2.5"/><circle cx="333.3" cy="394.9" r="2.5"/><circle cx="337.3" cy="394.9" r="2.5"/><circle cx="341.2" cy="394.9" r="2.5"/><circle cx="345.2" cy="394.9" r="2.5"/><circle cx="349.2" cy="391.6" r="2.5"/><circle cx="353.2" cy="390.8" r="2.5"/><circle cx="357.1" cy="393.5" r="2.5"/><circle cx="361.1" cy="397.2" r="2.5"/><circle cx="365.1" cy="400.2" r="2.5"/><circle cx="369.1" cy="400.2" r="2.5"/><circle cx="373.0" cy="397.5" r="2.5"/><circle cx="377.0" cy="397.5" r="2.5"/><circle cx="381.0" cy="397.5" r="2.5"/><circle cx="385.0" cy="397.5" r="2.5"/><circle cx="388.9" cy="396.1" r="2.5"/><circle cx="392.9" cy="393.3" r="2.5"/><circle cx="396.9" cy="393.3" r="2.5"/><circle cx="400.9" cy="393.3" r="2.5"/><circle cx="404.8" cy="392.4" r="2.5"/><circle cx="408.8" cy="390.0" r="2.5"/><circle cx="412.8" cy="390.0" r="2.5"/><circle cx="416.7" cy="392.2" r="2.5"/><circle cx="420.7" cy="392.7" r="2.5"/><circle cx="424.7" cy="391.7" r="2.5"/><circle cx="428.7" cy="391.7" r="2.5"/><circle cx="432.6" cy="398.2" r="2.5"/><circle cx="436.6" cy="399.6" r="2.5"/><circle cx="440.6" cy="400.2" r="2.5"/><circle cx="444.6" cy="400.3" r="2.5"/><circle cx="448.5" cy="400.4" r="2.5"/><circle cx="452.5" cy="401.0" r="2.5"/><circle cx="456.5" cy="402.1" r="2.5"/><circle cx="460.5" cy="402.1" r="2.5"/><circle cx="464.4" cy="401.7" r="2.5"/><circle cx="468.4" cy="401.0" r="2.5"/><circle cx="472.4" cy="399.4" r="2.5"/><circle cx="476.4" cy="398.0" r="2.5"/><circle cx="480.3" cy="396.7" r="2.5"/><circle cx="484.3" cy="395.3" r="2.5"/><circle cx="488.3" cy="393.8" r="2.5"/><circle cx="492.3" cy="392.0" r="2.5"/><circle cx="496.2" cy="389.5" r="2.5"/><circle cx="500.2" cy="388.3" r="2.5"/><circle cx="504.2" cy="388.3" r="2.5"/><circle cx="508.1" cy="388.3" r="2.5"/><circle cx="512.1" cy="386.2" r="2.5"/><circle cx="516.1" cy="383.8" r="2.5"/><circle cx="520.1" cy="382.3" r="2.5"/><circle cx="524.0" cy="383.2" r="2.5"/><circle cx="528.0" cy="391.8" r="2.5"/><circle cx="532.0" cy="405.7" r="2.5"/><circle cx="536.0" cy="422.9" r="2.5"/><circle cx="539.9" cy="441.9" r="2.5"/><circle cx="543.9" cy="463.5" r="2.5"/><circle cx="547.9" cy="472.1" r="2.5"/><circle cx="551.9" cy="463.2" r="2.5"/><circle cx="555.8" cy="445.7" r="2.5"/><circle cx="559.8" cy="424.8" r="2.5"/><circle cx="563.8" cy="407.6" r="2.5"/><circle cx="567.8" cy="395.6" r="2.5"/><circle cx="571.7" cy="389.9" r="2.5"/><circle cx="575.7" cy="389.0" r="2.5"/><circle cx="579.7" cy="391.8" r="2.5"/><circle cx="583.7" cy="394.3" r="2.5"/><circle cx="587.6" cy="395.6" r="2.5"/><circle cx="591.6" cy="398.1" r="2.5"/><circle cx="595.6" cy="401.9" r="2.5"/><circle cx="599.5" cy="401.7" r="2.5"/></g><polyline fill="none" stroke="#1010b8" stroke-width="1.3" stroke-linejoin="round" points="49.30,380.70 72.55,380.74 88.30,381.32 91.80,381.70 99.55,383.05 107.55,384.15 111.30,384.55 114.55,384.70 116.80,384.51 121.80,383.53 127.55,382.90 157.05,380.44 164.05,380.04 182.05,380.07 185.05,380.37 200.30,382.38 205.05,382.70 208.55,382.52 215.55,381.56 218.55,381.31 251.05,380.70 253.55,380.88 260.05,381.86 265.80,382.44 268.80,383.11 271.55,384.10 273.30,385.34 275.05,387.15 277.30,390.08 278.80,392.45 280.05,395.04 281.55,398.87 283.05,403.44 284.05,407.04 285.55,414.23 287.80,427.24 292.05,457.03 297.05,488.56 300.80,508.10 301.80,511.48 302.30,512.37 302.55,512.57 302.80,512.59 303.30,512.27 304.05,511.01 304.80,508.99 305.55,506.39 308.80,492.67 310.30,484.82 312.55,470.71 314.30,458.31 316.55,439.55 318.05,425.05 319.30,417.26 320.80,409.85 323.30,400.26 324.55,396.28 325.55,393.65 327.05,390.78 328.80,388.00 330.30,386.21 331.55,385.30 333.80,384.59 336.55,384.05 339.05,383.77 344.55,383.45 351.30,382.42 353.05,382.43 355.05,382.64 357.05,383.05 359.05,383.61 362.80,385.05 363.55,385.53 364.30,386.23 367.55,390.21 370.80,394.93 373.55,398.32 374.80,399.55 375.80,400.16 377.30,400.64 378.80,400.98 380.30,401.10 382.05,400.94 384.05,400.48 385.30,400.09 386.30,399.45 387.55,398.22 390.80,394.35 394.05,390.08 394.80,389.35 395.80,388.67 397.80,387.66 402.30,385.92 404.55,385.20 406.55,384.80 407.80,384.70 410.80,384.76 424.05,385.50 440.05,385.01 442.30,385.03 444.30,385.22 446.55,385.64 449.30,386.36 458.80,389.47 461.05,390.42 465.80,392.75 468.05,393.63 470.05,394.11 471.80,394.20 474.05,394.06 476.55,393.75 483.30,392.43 485.80,391.67 491.55,389.28 494.05,388.45 497.30,387.83 504.80,386.86 508.05,386.29 510.30,385.65 519.05,382.59 520.55,382.32 521.80,382.43 522.80,382.91 523.80,383.69 526.05,386.17 527.30,387.94 528.55,390.81 531.05,398.43 534.80,414.03 536.30,419.75 538.80,428.78 541.80,438.68 543.30,443.25 544.55,446.45 546.55,450.80 547.05,451.50 547.55,451.80 548.30,451.47 549.30,450.16 550.80,447.41 551.80,444.85 553.05,440.73 555.80,430.57 559.55,415.34 562.80,403.96 563.80,400.96 564.80,398.50 566.80,394.27 568.30,391.84 569.30,390.98 570.55,390.62 573.30,390.10 576.05,389.90 578.55,390.19 584.05,391.65 585.55,391.80 587.30,391.73 589.55,391.40 592.30,390.76 595.30,389.87 596.90,389.12"/><polyline fill="none" stroke="#1010b8" stroke-width="1.3" stroke-linejoin="round" points="49.30,382.07 59.55,381.47 71.30,381.03 78.80,381.13 88.80,381.50 91.05,381.80 93.80,382.40 106.55,385.95 111.55,386.86 115.30,387.17 117.80,386.92 121.80,386.02 125.30,385.41 147.30,382.63 157.55,381.04 162.55,380.51 167.05,380.21 175.55,380.09 180.30,380.28 183.05,380.56 186.55,381.36 197.80,384.75 201.80,385.45 205.05,385.70 206.80,385.62 208.55,385.35 216.80,383.30 219.30,382.92 228.05,382.37 251.55,381.37 253.55,381.52 256.05,381.91 259.30,382.56 264.05,383.72 267.80,384.91 271.05,386.36 272.80,387.55 274.55,389.23 276.55,391.65 278.55,394.61 279.80,397.05 281.30,400.68 282.80,405.01 284.05,409.29 285.55,416.14 287.80,428.63 292.05,457.82 297.05,488.93 300.80,508.19 301.80,511.50 302.30,512.37 302.80,512.59 303.30,512.27 304.05,511.01 304.80,508.99 305.55,506.39 308.80,492.67 310.30,484.82 312.30,472.36 314.05,460.15 316.55,439.57 318.05,425.75 319.30,417.94 320.80,410.46 322.05,405.57 323.30,401.31 324.55,397.74 325.55,395.44 327.05,392.91 329.05,390.07 330.55,388.44 331.80,387.62 333.05,387.21 334.80,386.92 344.55,386.20 346.30,385.81 350.05,384.67 352.05,384.32 353.30,384.31 355.05,384.51 358.55,385.42 360.80,386.26 362.80,387.20 364.30,388.39 367.55,392.13 373.30,399.82 375.05,401.78 375.80,402.31 378.05,403.36 379.30,403.74 380.30,403.83 381.80,403.67 383.55,403.23 385.30,402.62 386.30,401.98 387.80,400.55 390.80,397.16 394.05,393.07 394.80,392.36 395.80,391.67 397.80,390.61 402.80,388.49 404.80,387.76 406.55,387.34 408.05,387.22 410.55,387.36 420.55,388.73 423.80,389.04 428.05,389.08 439.80,388.83 442.05,388.88 443.80,389.12 446.05,389.68 448.55,390.54 458.30,394.56 460.55,395.67 464.80,398.07 467.55,399.34 469.80,399.99 471.80,400.08 476.05,399.56 480.55,398.30 484.80,396.56 491.05,393.15 493.55,391.99 496.30,391.21 504.30,389.70 507.55,388.81 509.80,387.86 519.05,382.92 520.55,382.44 521.80,382.53 522.80,383.00 523.80,383.76 526.05,386.19 527.30,387.93 528.55,390.80 531.05,398.43 534.80,414.03 536.30,419.75 538.80,428.78 541.80,438.68 543.30,443.25 544.55,446.45 546.55,450.80 547.05,451.50 547.55,451.80 548.30,451.47 549.30,450.16 550.80,447.41 551.80,444.85 553.05,440.73 555.80,430.57 559.55,415.34 562.80,403.96 563.80,400.96 564.80,398.50 566.80,394.27 568.30,391.84 569.30,390.98 570.55,390.62 573.30,390.10 576.05,389.90 578.55,390.19 584.05,391.65 585.55,391.80 587.30,391.73 589.55,391.40 592.30,390.76 595.30,389.87 596.90,389.12"/><polyline fill="none" stroke="#1010b8" stroke-width="1.3" stroke-linejoin="round" points="49.30,384.08 59.05,382.66 70.80,381.52 75.55,381.42 89.05,381.74 90.80,382.04 92.80,382.61 98.80,384.92 100.55,385.74 104.80,388.07 106.55,388.81 112.05,390.35 114.05,390.71 115.80,390.86 118.30,390.67 125.05,388.83 137.05,386.69 146.55,384.82 156.05,382.34 159.05,381.68 166.05,380.63 172.05,380.17 175.05,380.20 178.05,380.42 181.30,380.84 183.80,381.38 186.30,382.41 191.30,385.02 195.80,387.72 197.55,388.60 201.05,389.59 204.30,390.10 206.30,390.07 208.30,389.61 212.55,388.06 217.30,385.87 220.05,385.22 223.55,384.75 230.05,384.12 245.55,383.09 251.05,382.35 252.55,382.36 254.30,382.56 259.05,383.66 260.80,384.36 265.05,386.46 268.55,388.41 271.80,390.60 274.30,392.87 276.55,395.51 278.30,398.03 280.05,401.39 281.80,405.69 283.55,410.85 284.55,414.55 285.55,418.97 287.80,430.69 292.05,458.98 297.05,489.47 299.80,503.72 300.80,508.34 301.80,511.54 302.30,512.38 302.80,512.59 303.30,512.27 304.05,511.01 305.30,507.31 308.55,493.81 310.05,486.24 311.80,475.62 313.80,461.98 318.05,426.78 319.55,417.52 320.80,411.36 321.80,407.58 323.05,403.56 324.05,400.98 325.05,398.95 326.30,397.01 329.30,393.34 330.80,391.85 332.05,391.09 332.80,390.83 333.80,390.70 337.80,390.86 344.30,390.32 346.30,389.67 350.55,387.61 352.55,387.08 354.80,387.21 357.55,387.96 361.30,389.52 362.80,390.38 364.05,391.35 368.05,395.56 371.55,399.98 375.05,404.78 375.80,405.48 378.05,407.10 379.05,407.62 379.80,407.83 381.05,407.80 382.55,407.44 385.05,406.47 386.30,405.72 387.80,404.40 390.80,401.31 394.30,397.24 396.30,395.77 404.55,391.73 406.30,391.15 408.05,390.94 410.80,391.26 420.80,393.75 423.80,394.27 428.05,394.43 439.80,394.46 441.80,394.56 443.55,394.89 446.80,396.15 453.30,399.49 458.80,402.64 464.05,406.19 466.55,407.54 469.05,408.55 470.05,408.76 471.30,408.79 473.30,408.59 475.80,408.09 477.80,407.39 480.30,406.24 484.80,403.28 491.30,398.39 494.05,396.78 497.05,395.74 504.05,393.86 507.30,392.50 509.55,391.07 517.30,384.64 519.05,383.39 520.55,382.62 521.05,382.56 521.80,382.68 522.80,383.13 523.80,383.86 526.05,386.21 527.30,387.92 528.55,390.79 531.05,398.43 534.80,414.03 536.30,419.75 538.80,428.78 541.80,438.68 543.30,443.25 544.55,446.45 546.55,450.80 547.05,451.50 547.55,451.80 548.30,451.47 549.30,450.16 550.80,447.41 551.80,444.85 553.05,440.73 555.80,430.57 559.55,415.34 562.80,403.96 563.80,400.96 564.80,398.50 566.80,394.27 568.30,391.84 569.30,390.98 570.55,390.62 573.30,390.10 576.05,389.90 578.55,390.19 584.05,391.65 585.55,391.80 587.30,391.73 589.55,391.40 592.30,390.76 595.30,389.87 596.90,389.12"/><polyline fill="none" stroke="#1010b8" stroke-width="1.3" stroke-linejoin="round" points="49.30,387.20 53.80,385.83 59.05,384.48 66.80,382.91 70.55,382.29 74.30,382.00 89.05,382.07 90.80,382.48 92.80,383.30 99.05,386.92 100.80,388.30 104.55,391.83 106.55,393.23 110.30,394.95 113.05,395.98 115.30,396.53 117.55,396.69 118.55,396.57 119.80,396.23 125.30,394.00 135.80,391.32 145.30,388.47 149.05,387.10 156.30,383.93 159.30,382.89 165.05,381.44 168.55,380.73 171.80,380.35 174.55,380.34 176.80,380.59 179.30,381.08 182.80,382.03 184.05,382.58 186.30,384.14 191.05,388.30 195.80,393.20 197.55,394.67 198.55,395.24 201.80,396.42 203.55,396.84 205.30,397.00 207.05,396.68 209.30,395.59 212.80,393.50 216.55,390.53 218.05,389.58 219.80,388.95 222.55,388.26 231.55,386.76 245.30,385.30 250.05,384.05 251.55,383.82 253.30,383.88 255.05,384.18 257.30,384.82 259.30,385.56 261.05,386.78 268.55,393.36 274.05,398.66 276.30,401.16 278.05,403.58 279.80,406.74 281.55,410.70 283.30,415.41 284.30,418.58 285.55,423.34 287.80,433.88 290.55,451.55 295.80,483.46 299.55,502.91 300.55,507.56 301.30,510.30 302.05,512.07 302.55,512.57 302.80,512.59 303.30,512.27 304.05,511.01 305.30,507.31 308.55,493.81 310.05,486.24 313.30,465.62 318.05,428.37 319.55,419.02 320.80,412.76 322.55,407.06 323.30,405.25 324.05,403.93 325.55,402.20 328.05,400.09 330.55,397.67 331.55,396.89 332.30,396.49 333.05,396.31 333.80,396.34 336.80,397.14 338.05,397.30 340.80,397.14 344.05,396.69 345.05,396.37 346.05,395.83 350.30,392.52 352.05,391.54 353.05,391.31 354.05,391.34 356.55,391.98 360.05,393.52 361.55,394.39 363.80,396.10 367.05,398.90 369.30,401.14 371.30,403.45 374.55,408.68 375.80,410.39 378.55,413.34 379.55,413.97 380.30,414.10 381.30,413.96 382.55,413.52 385.30,412.14 386.55,411.34 390.80,407.73 394.55,403.86 397.05,402.13 400.55,400.19 404.05,398.04 405.55,397.27 406.55,396.91 407.55,396.72 409.30,396.84 411.30,397.46 415.05,399.13 421.05,401.55 423.55,402.32 427.55,402.70 440.30,403.21 442.05,403.42 443.55,403.91 446.30,405.45 453.55,410.60 457.80,413.96 463.30,418.78 464.55,419.73 467.05,421.17 468.55,421.89 469.80,422.24 471.05,422.28 473.05,421.99 475.80,421.23 477.55,420.33 480.05,418.61 482.05,416.71 489.05,408.95 492.05,406.01 493.80,404.63 496.55,403.22 503.80,400.35 505.30,399.53 506.80,398.49 508.30,397.22 509.55,395.86 518.05,385.15 520.30,383.02 521.05,382.80 521.80,382.91 522.80,383.33 523.80,384.02 526.30,386.53 527.30,387.90 528.55,390.76 531.05,398.43 534.80,414.03 536.30,419.75 538.80,428.78 541.80,438.68 543.30,443.25 544.55,446.45 546.55,450.80 547.05,451.50 547.55,451.80 548.30,451.47 549.30,450.16 550.80,447.41 551.80,444.85 553.05,440.73 555.80,430.57 559.55,415.34 562.80,403.96 563.80,400.96 564.80,398.50 566.80,394.27 568.30,391.84 569.30,390.98 570.55,390.62 573.30,390.10 576.05,389.90 578.55,390.19 584.05,391.65 585.55,391.80 587.30,391.73 589.55,391.40 592.30,390.76 595.30,389.87 596.90,389.12"/></g><rect x="49.3" y="0.5" width="547.6" height="182.2" fill="none" stroke="#000" stroke-width="1.5"/><path d="M75.38 0.50v8M75.38 182.70v-8M101.45 0.50v8M101.45 182.70v-8M127.53 0.50v8M127.53 182.70v-8M153.60 0.50v8M153.60 182.70v-8M179.68 0.50v15.5M179.68 182.70v-15.5M205.76 0.50v8M205.76 182.70v-8M231.83 0.50v8M231.83 182.70v-8M257.91 0.50v8M257.91 182.70v-8M283.99 0.50v8M283.99 182.70v-8M310.06 0.50v15.5M310.06 182.70v-15.5M336.14 0.50v8M336.14 182.70v-8M362.21 0.50v8M362.21 182.70v-8M388.29 0.50v8M388.29 182.70v-8M414.37 0.50v8M414.37 182.70v-8M440.44 0.50v15.5M440.44 182.70v-15.5M466.52 0.50v8M466.52 182.70v-8M492.60 0.50v8M492.60 182.70v-8M518.67 0.50v8M518.67 182.70v-8M544.75 0.50v8M544.75 182.70v-8M570.82 0.50v15.5M570.82 182.70v-15.5M49.30 179.14h8M596.90 179.14h-8M49.30 172.27h8M596.90 172.27h-8M49.30 165.41h8M596.90 165.41h-8M49.30 158.54h8M596.90 158.54h-8M49.30 151.68h15.5M596.90 151.68h-15.5M49.30 144.82h8M596.90 144.82h-8M49.30 137.95h8M596.90 137.95h-8M49.30 131.09h8M596.90 131.09h-8M49.30 124.22h8M596.90 124.22h-8M49.30 117.36h15.5M596.90 117.36h-15.5M49.30 110.50h8M596.90 110.50h-8M49.30 103.63h8M596.90 103.63h-8M49.30 96.77h8M596.90 96.77h-8M49.30 89.90h8M596.90 89.90h-8M49.30 83.04h15.5M596.90 83.04h-15.5M49.30 76.18h8M596.90 76.18h-8M49.30 69.31h8M596.90 69.31h-8M49.30 62.45h8M596.90 62.45h-8M49.30 55.58h8M596.90 55.58h-8M49.30 48.72h15.5M596.90 48.72h-15.5M49.30 41.86h8M596.90 41.86h-8M49.30 34.99h8M596.90 34.99h-8M49.30 28.13h8M596.90 28.13h-8M49.30 21.26h8M596.90 21.26h-8M49.30 14.40h15.5M596.90 14.40h-15.5M49.30 7.54h8M596.90 7.54h-8" stroke="#000" stroke-width="1.3" fill="none"/><rect x="49.3" y="183.0" width="547.6" height="182.2" fill="none" stroke="#000" stroke-width="1.5"/><path d="M75.38 183.00v8M75.38 365.20v-8M101.45 183.00v8M101.45 365.20v-8M127.53 183.00v8M127.53 365.20v-8M153.60 183.00v8M153.60 365.20v-8M179.68 183.00v15.5M179.68 365.20v-15.5M205.76 183.00v8M205.76 365.20v-8M231.83 183.00v8M231.83 365.20v-8M257.91 183.00v8M257.91 365.20v-8M283.99 183.00v8M283.99 365.20v-8M310.06 183.00v15.5M310.06 365.20v-15.5M336.14 183.00v8M336.14 365.20v-8M362.21 183.00v8M362.21 365.20v-8M388.29 183.00v8M388.29 365.20v-8M414.37 183.00v8M414.37 365.20v-8M440.44 183.00v15.5M440.44 365.20v-15.5M466.52 183.00v8M466.52 365.20v-8M492.60 183.00v8M492.60 365.20v-8M518.67 183.00v8M518.67 365.20v-8M544.75 183.00v8M544.75 365.20v-8M570.82 183.00v15.5M570.82 365.20v-15.5M49.30 361.64h8M596.90 361.64h-8M49.30 354.77h8M596.90 354.77h-8M49.30 347.91h8M596.90 347.91h-8M49.30 341.04h8M596.90 341.04h-8M49.30 334.18h15.5M596.90 334.18h-15.5M49.30 327.32h8M596.90 327.32h-8M49.30 320.45h8M596.90 320.45h-8M49.30 313.59h8M596.90 313.59h-8M49.30 306.72h8M596.90 306.72h-8M49.30 299.86h15.5M596.90 299.86h-15.5M49.30 293.00h8M596.90 293.00h-8M49.30 286.13h8M596.90 286.13h-8M49.30 279.27h8M596.90 279.27h-8M49.30 272.40h8M596.90 272.40h-8M49.30 265.54h15.5M596.90 265.54h-15.5M49.30 258.68h8M596.90 258.68h-8M49.30 251.81h8M596.90 251.81h-8M49.30 244.95h8M596.90 244.95h-8M49.30 238.08h8M596.90 238.08h-8M49.30 231.22h15.5M596.90 231.22h-15.5M49.30 224.36h8M596.90 224.36h-8M49.30 217.49h8M596.90 217.49h-8M49.30 210.63h8M596.90 210.63h-8M49.30 203.76h8M596.90 203.76h-8M49.30 196.90h15.5M596.90 196.90h-15.5M49.30 190.04h8M596.90 190.04h-8" stroke="#000" stroke-width="1.3" fill="none"/><rect x="49.3" y="365.5" width="547.6" height="182.2" fill="none" stroke="#000" stroke-width="1.5"/><path d="M75.38 365.50v8M75.38 547.70v-8M101.45 365.50v8M101.45 547.70v-8M127.53 365.50v8M127.53 547.70v-8M153.60 365.50v8M153.60 547.70v-8M179.68 365.50v15.5M179.68 547.70v-15.5M205.76 365.50v8M205.76 547.70v-8M231.83 365.50v8M231.83 547.70v-8M257.91 365.50v8M257.91 547.70v-8M283.99 365.50v8M283.99 547.70v-8M310.06 365.50v15.5M310.06 547.70v-15.5M336.14 365.50v8M336.14 547.70v-8M362.21 365.50v8M362.21 547.70v-8M388.29 365.50v8M388.29 547.70v-8M414.37 365.50v8M414.37 547.70v-8M440.44 365.50v15.5M440.44 547.70v-15.5M466.52 365.50v8M466.52 547.70v-8M492.60 365.50v8M492.60 547.70v-8M518.67 365.50v8M518.67 547.70v-8M544.75 365.50v8M544.75 547.70v-8M570.82 365.50v15.5M570.82 547.70v-15.5M49.30 544.54h8M596.90 544.54h-8M49.30 537.67h8M596.90 537.67h-8M49.30 530.81h8M596.90 530.81h-8M49.30 523.94h8M596.90 523.94h-8M49.30 517.08h15.5M596.90 517.08h-15.5M49.30 510.22h8M596.90 510.22h-8M49.30 503.35h8M596.90 503.35h-8M49.30 496.49h8M596.90 496.49h-8M49.30 489.62h8M596.90 489.62h-8M49.30 482.76h15.5M596.90 482.76h-15.5M49.30 475.90h8M596.90 475.90h-8M49.30 469.03h8M596.90 469.03h-8M49.30 462.17h8M596.90 462.17h-8M49.30 455.30h8M596.90 455.30h-8M49.30 448.44h15.5M596.90 448.44h-15.5M49.30 441.58h8M596.90 441.58h-8M49.30 434.71h8M596.90 434.71h-8M49.30 427.85h8M596.90 427.85h-8M49.30 420.98h8M596.90 420.98h-8M49.30 414.12h15.5M596.90 414.12h-15.5M49.30 407.26h8M596.90 407.26h-8M49.30 400.39h8M596.90 400.39h-8M49.30 393.53h8M596.90 393.53h-8M49.30 386.66h8M596.90 386.66h-8M49.30 379.80h15.5M596.90 379.80h-15.5M49.30 372.94h8M596.90 372.94h-8M49.30 366.07h8M596.90 366.07h-8" stroke="#000" stroke-width="1.3" fill="none"/><path d="M114.5 52V86.7M206.5 52V86.7M388.4 87.2V96.8H472.7V87.2" stroke="#000" stroke-width="1.3" fill="none"/><g font-family="Liberation Serif, serif" fill="#000" stroke="#000" stroke-width="0.15"><text transform="translate(28.30,23.10) scale(0.88,1)" font-size="25.5" text-anchor="middle">1</text><text transform="translate(5.50,57.42) scale(1.05,1)" font-size="25.5" text-anchor="middle">0</text><text transform="translate(17.00,57.42) scale(1.0,1)" font-size="25.5" text-anchor="middle">.</text><text transform="translate(28.10,57.42) scale(1.12,1)" font-size="25.5" text-anchor="middle">9</text><text transform="translate(5.50,91.74) scale(1.05,1)" font-size="25.5" text-anchor="middle">0</text><text transform="translate(17.00,91.74) scale(1.0,1)" font-size="25.5" text-anchor="middle">.</text><text transform="translate(28.10,91.74) scale(1.12,1)" font-size="25.5" text-anchor="middle">8</text><text transform="translate(5.50,126.06) scale(1.05,1)" font-size="25.5" text-anchor="middle">0</text><text transform="translate(17.00,126.06) scale(1.0,1)" font-size="25.5" text-anchor="middle">.</text><text transform="translate(28.10,126.06) scale(1.12,1)" font-size="25.5" text-anchor="middle">7</text><text transform="translate(5.50,160.38) scale(1.05,1)" font-size="25.5" text-anchor="middle">0</text><text transform="translate(17.00,160.38) scale(1.0,1)" font-size="25.5" text-anchor="middle">.</text><text transform="translate(28.10,160.38) scale(1.12,1)" font-size="25.5" text-anchor="middle">6</text><text transform="translate(28.30,205.60) scale(0.88,1)" font-size="25.5" text-anchor="middle">1</text><text transform="translate(5.50,239.92) scale(1.05,1)" font-size="25.5" text-anchor="middle">0</text><text transform="translate(17.00,239.92) scale(1.0,1)" font-size="25.5" text-anchor="middle">.</text><text transform="translate(28.10,239.92) scale(1.12,1)" font-size="25.5" text-anchor="middle">9</text><text transform="translate(5.50,274.24) scale(1.05,1)" font-size="25.5" text-anchor="middle">0</text><text transform="translate(17.00,274.24) scale(1.0,1)" font-size="25.5" text-anchor="middle">.</text><text transform="translate(28.10,274.24) scale(1.12,1)" font-size="25.5" text-anchor="middle">8</text><text transform="translate(5.50,308.56) scale(1.05,1)" font-size="25.5" text-anchor="middle">0</text><text transform="translate(17.00,308.56) scale(1.0,1)" font-size="25.5" text-anchor="middle">.</text><text transform="translate(28.10,308.56) scale(1.12,1)" font-size="25.5" text-anchor="middle">7</text><text transform="translate(5.50,342.88) scale(1.05,1)" font-size="25.5" text-anchor="middle">0</text><text transform="translate(17.00,342.88) scale(1.0,1)" font-size="25.5" text-anchor="middle">.</text><text transform="translate(28.10,342.88) scale(1.12,1)" font-size="25.5" text-anchor="middle">6</text><text transform="translate(28.30,388.50) scale(0.88,1)" font-size="25.5" text-anchor="middle">1</text><text transform="translate(5.50,422.82) scale(1.05,1)" font-size="25.5" text-anchor="middle">0</text><text transform="translate(17.00,422.82) scale(1.0,1)" font-size="25.5" text-anchor="middle">.</text><text transform="translate(28.10,422.82) scale(1.12,1)" font-size="25.5" text-anchor="middle">9</text><text transform="translate(5.50,457.14) scale(1.05,1)" font-size="25.5" text-anchor="middle">0</text><text transform="translate(17.00,457.14) scale(1.0,1)" font-size="25.5" text-anchor="middle">.</text><text transform="translate(28.10,457.14) scale(1.12,1)" font-size="25.5" text-anchor="middle">8</text><text transform="translate(5.50,491.46) scale(1.05,1)" font-size="25.5" text-anchor="middle">0</text><text transform="translate(17.00,491.46) scale(1.0,1)" font-size="25.5" text-anchor="middle">.</text><text transform="translate(28.10,491.46) scale(1.12,1)" font-size="25.5" text-anchor="middle">7</text><text transform="translate(5.50,525.78) scale(1.05,1)" font-size="25.5" text-anchor="middle">0</text><text transform="translate(17.00,525.78) scale(1.0,1)" font-size="25.5" text-anchor="middle">.</text><text transform="translate(28.10,525.78) scale(1.12,1)" font-size="25.5" text-anchor="middle">6</text><text transform="translate(26.20,578.00) scale(1.12,1)" font-size="25.5" text-anchor="middle">5</text><text transform="translate(41.06,578.00) scale(1.12,1)" font-size="25.5" text-anchor="middle">6</text><text transform="translate(55.94,578.00) scale(1.12,1)" font-size="25.5" text-anchor="middle">3</text><text transform="translate(70.81,578.00) scale(1.12,1)" font-size="25.5" text-anchor="middle">2</text><text transform="translate(156.58,578.00) scale(1.12,1)" font-size="25.5" text-anchor="middle">5</text><text transform="translate(171.45,578.00) scale(1.12,1)" font-size="25.5" text-anchor="middle">6</text><text transform="translate(186.32,578.00) scale(1.12,1)" font-size="25.5" text-anchor="middle">3</text><text transform="translate(201.19,578.00) scale(1.12,1)" font-size="25.5" text-anchor="middle">3</text><text transform="translate(286.96,578.00) scale(1.12,1)" font-size="25.5" text-anchor="middle">5</text><text transform="translate(301.83,578.00) scale(1.12,1)" font-size="25.5" text-anchor="middle">6</text><text transform="translate(316.70,578.00) scale(1.12,1)" font-size="25.5" text-anchor="middle">3</text><text transform="translate(331.57,578.00) scale(1.12,1)" font-size="25.5" text-anchor="middle">4</text><text transform="translate(417.34,578.00) scale(1.12,1)" font-size="25.5" text-anchor="middle">5</text><text transform="translate(432.21,578.00) scale(1.12,1)" font-size="25.5" text-anchor="middle">6</text><text transform="translate(447.08,578.00) scale(1.12,1)" font-size="25.5" text-anchor="middle">3</text><text transform="translate(461.95,578.00) scale(1.12,1)" font-size="25.5" text-anchor="middle">5</text><text transform="translate(547.72,578.00) scale(1.12,1)" font-size="25.5" text-anchor="middle">5</text><text transform="translate(562.59,578.00) scale(1.12,1)" font-size="25.5" text-anchor="middle">6</text><text transform="translate(577.46,578.00) scale(1.12,1)" font-size="25.5" text-anchor="middle">3</text><text transform="translate(592.33,578.00) scale(1.12,1)" font-size="25.5" text-anchor="middle">6</text><text transform="translate(447.60,162.60) scale(0.91,1)" font-size="18.9" text-anchor="middle">N</text><text transform="translate(460.20,162.60) scale(0.91,1)" font-size="18.9" text-anchor="middle">G</text><text transform="translate(472.40,162.60) scale(0.91,1)" font-size="18.9" text-anchor="middle">C</text><text transform="translate(493.20,162.60) scale(1.2,1)" font-size="18.9" text-anchor="middle">5</text><text transform="translate(505.00,162.60) scale(1.2,1)" font-size="18.9" text-anchor="middle">8</text><text transform="translate(516.60,162.60) scale(1.2,1)" font-size="18.9" text-anchor="middle">2</text><text transform="translate(528.00,162.60) scale(1.2,1)" font-size="18.9" text-anchor="middle">2</text><text transform="translate(539.90,163.60) scale(1.05,1)" font-size="18.9" text-anchor="middle">&#8722;</text><text transform="translate(552.90,162.60) scale(1.2,1)" font-size="18.9" text-anchor="middle">2</text><text transform="translate(447.60,345.40) scale(0.91,1)" font-size="18.9" text-anchor="middle">N</text><text transform="translate(460.20,345.40) scale(0.91,1)" font-size="18.9" text-anchor="middle">G</text><text transform="translate(472.50,345.40) scale(0.91,1)" font-size="18.9" text-anchor="middle">C</text><text transform="translate(493.20,345.40) scale(1.2,1)" font-size="18.9" text-anchor="middle">5</text><text transform="translate(504.60,345.40) scale(1.2,1)" font-size="18.9" text-anchor="middle">8</text><text transform="translate(516.80,345.40) scale(1.2,1)" font-size="18.9" text-anchor="middle">2</text><text transform="translate(528.00,345.40) scale(1.2,1)" font-size="18.9" text-anchor="middle">2</text><text transform="translate(540.20,346.40) scale(1.05,1)" font-size="18.9" text-anchor="middle">&#8722;</text><text transform="translate(553.50,345.40) scale(1.2,1)" font-size="18.9" text-anchor="middle">2</text><text transform="translate(565.20,345.40) scale(1.2,1)" font-size="18.9" text-anchor="middle">0</text><text transform="translate(575.70,345.40) scale(1.1,1)" font-size="18.9" text-anchor="middle">1</text><text transform="translate(447.20,527.60) scale(0.91,1)" font-size="18.9" text-anchor="middle">H</text><text transform="translate(458.80,527.60) scale(0.91,1)" font-size="18.9" text-anchor="middle">D</text><text transform="translate(481.70,527.60) scale(1.2,1)" font-size="18.9" text-anchor="middle">6</text><text transform="translate(493.00,527.60) scale(1.2,1)" font-size="18.9" text-anchor="middle">5</text><text transform="translate(504.20,527.60) scale(1.2,1)" font-size="18.9" text-anchor="middle">3</text><text transform="translate(514.60,527.60) scale(1.1,1)" font-size="18.9" text-anchor="middle">1</text><text transform="translate(525.80,527.60) scale(1.2,1)" font-size="18.9" text-anchor="middle">4</text><text transform="translate(296.40,158.70) scale(0.97,1)" font-size="20.0" text-anchor="middle">F</text><text transform="translate(307.20,158.70) scale(1.1,1)" font-size="20.0" text-anchor="middle">e</text><text transform="translate(315.60,158.70) scale(0.9,1)" font-size="20.0" text-anchor="middle">I</text><text transform="translate(544.10,124.00) scale(0.97,1)" font-size="20.0" text-anchor="middle">F</text><text transform="translate(554.90,124.00) scale(1.1,1)" font-size="20.0" text-anchor="middle">e</text><text transform="translate(563.30,124.00) scale(0.9,1)" font-size="20.0" text-anchor="middle">I</text><text transform="translate(114.00,111.10) scale(0.93,1)" font-size="20.0" text-anchor="middle">C</text><text transform="translate(123.40,116.60) scale(1.15,1)" font-size="12.8" text-anchor="middle">2</text><text transform="translate(206.40,110.90) scale(0.93,1)" font-size="20.0" text-anchor="middle">C</text><text transform="translate(215.80,116.40) scale(1.15,1)" font-size="12.8" text-anchor="middle">2</text><text transform="translate(433.40,121.60) scale(0.93,1)" font-size="20.0" text-anchor="middle">C</text><text transform="translate(442.80,127.10) scale(1.15,1)" font-size="12.8" text-anchor="middle">2</text></g></svg>
</body></html>
